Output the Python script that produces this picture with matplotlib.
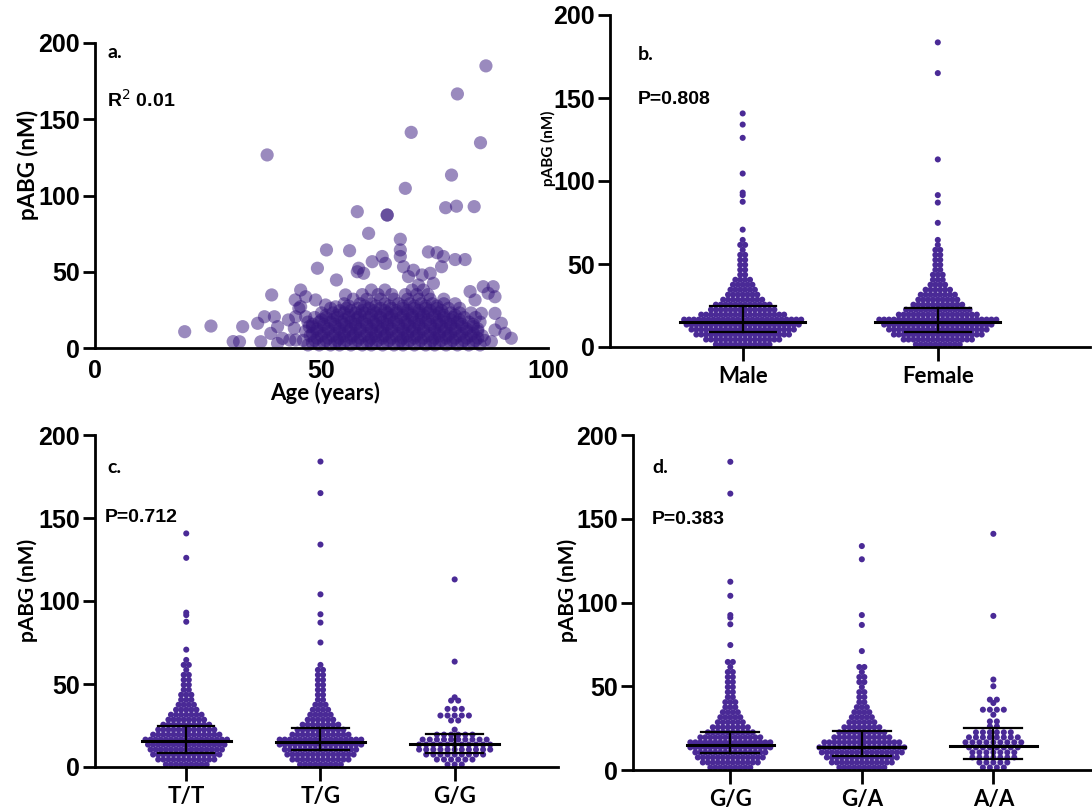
import numpy as np
import matplotlib
matplotlib.use("Agg")
import matplotlib.pyplot as plt

# ---- panel a: age vs pABG (outer points)
age_out = [19.8, 25.6, 39, 51.1, 56.2, 49.1, 53.3, 55.3, 57.9, 57.9, 45.4, 46.5, 48.7, 50.9,
           32.6, 31.9, 35.9, 37.4, 39.6, 36.6, 38.8, 40.3, 41.4, 44, 44.3, 44.3, 46.5, 45.4,
           47.3, 53.1, 78.7, 68.5, 77.4, 79.8, 83.7, 64.5, 64.5, 60.4, 67.4, 73.6, 75.5, 67.4,
           67.4, 76.9, 76.5, 79.5, 81.7, 63.4, 61.2, 64.1, 58.2, 59.3, 68.1, 70.3, 72.2, 74,
           74.7, 71.4, 69.2, 85.7, 87.9, 82.8, 86.8, 88.3, 83.9, 85.3, 88.3, 89.7, 91.9, 90.5,
           88.3, 87.5, 38, 86.3, 80, 69.8, 85.1, 30.5, 40.3, 43, 42.7, 45, 44.2]
pabg_out = [10.7, 14.4, 34.8, 64.3, 63.8, 52.3, 44.6, 34.8, 89.4, 50, 38, 33.6, 31.5, 28.2,
            14, 4.1, 16.2, 20.5, 20.5, 4.1, 9.6, 14, 6.3, 12.9, 20.5, 5.2, 20.5, 27.1,
            14, 27, 113.4, 104.7, 92, 93, 92.7, 87.2, 87.2, 75.2, 71.3, 63, 62.5, 64.3,
            60, 60, 53.3, 58, 58, 60, 56.6, 55.5, 52.3, 49, 53.3, 51, 47.9, 49,
            42.4, 41.3, 46.8, 40.2, 40.2, 37, 35.9, 33.6, 31.5, 22.7, 22.7, 16.2, 6.4, 9.6,
            11.8, 4.2, 126.6, 185, 166.6, 141.4, 134.6, 4.2, 3, 5.2, 18.4, 26, 31.5]

# ---- panel a: dense core, ages for each pABG level
core_levels = [2, 3.5, 5, 6.5, 8, 9.5, 11, 12.5, 14, 15.5, 17, 18.5, 20, 21.5, 23, 24.5,
               26, 27.5, 29, 32, 35, 38]
core_ages = [
    [47, 49.5, 52, 54, 56.5, 59, 61, 63.5, 66, 68, 70.5, 73, 75, 77.5, 80, 82.5, 85],
    [48, 50.5, 53, 55, 57.5, 60, 62, 64.5, 67, 69, 71.5, 74, 76, 78.5, 81, 83.5],
    [46, 48.5, 51, 53.5, 55.5, 58, 60.5, 62.5, 65, 67.5, 69.5, 72, 74.5, 76.5, 79, 81.5, 84, 86],
    [49, 51.5, 54, 56.5, 58.5, 61, 63.5, 65.5, 68, 70.5, 72.5, 75, 77.5, 79.5, 82, 84.5],
    [47.5, 50, 52.5, 55, 57, 59.5, 62, 64, 66.5, 69, 71, 73.5, 76, 78, 80.5, 83, 85.5],
    [48, 50.5, 53, 55, 57.5, 60, 62, 64.5, 67, 69, 71.5, 74, 76, 78.5, 81, 83.5],
    [46.5, 49, 51.5, 54, 56, 58.5, 61, 63, 65.5, 68, 70, 72.5, 75, 77, 79.5, 82, 84.5],
    [49, 51.5, 54, 56.5, 58.5, 61, 63.5, 65.5, 68, 70.5, 72.5, 75, 77.5, 79.5, 82, 84.5],
    [48, 50.5, 53, 55.5, 57.5, 60, 62.5, 64.5, 67, 69.5, 71.5, 74, 76.5, 78.5, 81, 83.5],
    [48, 50.5, 53, 55, 57.5, 60, 62, 64.5, 67, 69, 71.5, 74, 76, 78.5, 81, 83.5],
    [47, 49.5, 52, 54.5, 56.5, 59, 61.5, 63.5, 66, 68.5, 70.5, 73, 75.5, 77.5, 80, 82.5, 85],
    [50, 52.5, 55, 57.5, 59.5, 62, 64.5, 66.5, 69, 71.5, 73.5, 76, 78.5, 80.5],
    [48.5, 51, 53.5, 56, 58, 60.5, 63, 65, 67.5, 70, 72, 74.5, 77, 79, 81.5, 84],
    [51, 53.5, 56, 58.5, 61, 63, 65.5, 68, 70, 72.5, 75, 77, 79.5],
    [50, 52.5, 55, 57.5, 59.5, 62, 64.5, 66.5, 69, 71.5, 73.5, 76, 78.5, 80.5, 83],
    [54, 56.5, 59, 61.5, 64, 66.5, 69, 71.5, 74, 76.5],
    [52, 55.5, 58, 60.5, 63, 65.5, 68, 70.5, 73, 75.5, 78, 80.5],
    [56, 59.5, 62, 65, 68, 70.5, 73, 75.5],
    [55, 58.5, 61, 64, 67, 69.5, 72, 74.5, 77, 79.5],
    [57, 60, 63, 66, 69, 71.5, 74, 77],
    [59, 62.5, 65.5, 68.5, 71, 73.5],
    [61, 64, 70, 72.5],
]

# ---- dot plots: counts per 3 nM row (0-3, 3-6, ...) plus single high values
row_mid = [1.5, 4.5, 7.5, 10.5, 13.5, 16.5, 19.5, 22.5, 25.5, 28.5, 31.5, 34.5,
           37.5, 40.5, 43.5, 46.5, 49.5, 52.5, 55.5, 58.5, 61.5, 64.5]

sex_labels = ["Male", "Female"]
male_counts = [12, 16, 20, 22, 24, 25, 18, 14, 12, 9, 7, 6, 5, 4, 2, 2, 2, 2, 2, 1, 2, 1]
male_high = [70.7, 87.5, 91.5, 93, 104.5, 126, 134, 140.7]
female_counts = [10, 15, 19, 21, 23, 25, 17, 14, 11, 9, 8, 6, 4, 3, 3, 2, 2, 2, 2, 2, 1, 1]
female_high = [74.8, 87, 91.5, 113, 165, 183.5]
sex_median = [15, 15]
sex_q1 = [9, 9]
sex_q3 = [24.7, 23.5]

c_labels = ["T/T", "T/G", "G/G"]
tt_counts = [9, 12, 14, 15, 16, 17, 14, 12, 10, 8, 7, 5, 4, 3, 3, 2, 2, 2, 2, 1, 2, 1]
tt_high = [70.7, 87.5, 91.5, 93, 126, 140.7]
tg_counts = [9, 12, 14, 15, 17, 17, 12, 10, 8, 6, 5, 4, 3, 2, 2, 2, 2, 2, 2, 2, 1, 0]
tg_high = [75, 87, 92, 104, 134, 165, 184]
ggc_counts = [3, 6, 9, 11, 11, 10, 6, 1]
ggc_high = [28, 28, 31, 31, 31, 31, 31, 35, 35, 35, 40, 40, 42, 63.5, 113]
c_median = [15.7, 15, 14]
c_q1 = [8.4, 10, 8.4]
c_q3 = [24.7, 23.5, 20]

d_labels = ["G/G", "G/A", "A/A"]
ggd_counts = [9, 12, 14, 15, 17, 17, 13, 10, 8, 6, 5, 4, 3, 3, 2, 2, 2, 2, 2, 2, 1, 2]
ggd_high = [74.6, 87, 91, 92.5, 104, 112.4, 165, 184]
ga_counts = [10, 13, 15, 17, 18, 16, 12, 10, 8, 6, 5, 4, 3, 2, 2, 2, 1, 2, 2, 1, 2, 0]
ga_high = [71, 86.6, 92.5, 125.8, 133.7]
aa_counts = [4, 5, 7, 7, 8, 9, 8, 6]
aa_high = [26, 26, 29, 29, 33, 36, 36, 36, 36, 40, 42, 42, 50, 54, 92, 141]
d_median = [15, 14, 14.3]
d_q1 = [10, 8.4, 6.6]
d_q3 = [22.7, 23.3, 25]

W, H = 1092, 811
fig = plt.figure(figsize=(W / 100, H / 100), dpi=100)

NUM_FONT = "Liberation Sans"
TXT_FONT = "Lato"
DOT = "#4a2a96"
SCAT = "#36167e"


def px_axes(x0, x1, ytop, ybot):
    return fig.add_axes([x0 / W, 1 - ybot / H, (x1 - x0) / W, (ybot - ytop) / H])


def fig_text(x, y, s, **kw):
    fig.text(x / W, 1 - y / H, s, **kw)


def style(ax):
    for side in ["top", "right"]:
        ax.spines[side].set_visible(False)
    for side in ["left", "bottom"]:
        ax.spines[side].set_linewidth(2.0)
    ax.set_ylim(0, 200)
    ax.set_yticks([0, 50, 100, 150, 200])
    ax.tick_params(axis="y", length=9, width=2.0, pad=2, labelsize=18)
    for lab in ax.get_yticklabels():
        lab.set_fontfamily(NUM_FONT)
        lab.set_fontweight("bold")


def dot_column(ax, x, counts, high, dx):
    vals = list(np.repeat(row_mid[:len(counts)], counts)) + list(high)
    vals = np.array(vals)
    xs, ys = [], []
    for v in np.unique(vals):
        n = np.sum(vals == v)
        offs = (np.arange(n) - (n - 1) / 2) * dx
        xs += list(x + offs)
        ys += [v] * n
    ax.scatter(xs, ys, s=19, color=DOT, edgecolors="none", clip_on=False, zorder=2)


def summary(ax, med, q1, q3, half_med, half_cap):
    for i in range(len(med)):
        ax.plot([i - half_med, i + half_med], [med[i], med[i]], color="black", lw=2.2, zorder=3)
        ax.plot([i - half_cap, i + half_cap], [q1[i], q1[i]], color="black", lw=1.6, zorder=3)
        ax.plot([i - half_cap, i + half_cap], [q3[i], q3[i]], color="black", lw=1.6, zorder=3)
        ax.plot([i, i], [q1[i], q3[i]], color="black", lw=1.6, zorder=3)


def cat_axis(ax, labels, lo, hi):
    ax.set_xlim(lo, hi)
    ax.set_xticks(range(len(labels)))
    ax.set_xticklabels(labels, fontfamily=TXT_FONT, fontweight="bold", fontsize=16)
    ax.tick_params(axis="x", length=10, width=2.0, pad=4)


# ---- a
ax_a = px_axes(95, 548, 43, 348)
style(ax_a)
ax_a.scatter(age_out, pabg_out, s=90, color=SCAT, alpha=0.5, edgecolors="none", clip_on=False)
core_x = [a for row in core_ages for a in row]
core_y = [v for v, row in zip(core_levels, core_ages) for _ in row]
ax_a.scatter(core_x, core_y, s=90, color=SCAT, alpha=0.5, edgecolors="none", clip_on=False)
ax_a.set_xlim(0, 100)
ax_a.set_xticks([0, 50, 100])
ax_a.tick_params(axis="x", length=0, pad=8, labelsize=18)
for lab in ax_a.get_xticklabels():
    lab.set_fontfamily(NUM_FONT)
    lab.set_fontweight("bold")
fig_text(325, 393, "Age (years)", ha="center", va="center", fontsize=16,
         fontfamily=TXT_FONT, fontweight="bold")
fig_text(28, 165, "pABG (nM)", ha="center", va="center", rotation=90, fontsize=16,
         fontfamily=TXT_FONT, fontweight="bold")
fig_text(107, 52, "a.", ha="left", va="center", fontsize=14, fontfamily=TXT_FONT, fontweight="bold")
fig_text(107, 100, "R$^{2}$ 0.01", ha="left", va="center", fontsize=14,
         fontfamily=NUM_FONT, fontweight="bold")

# ---- b
ax_b = px_axes(610, 1090, 15, 347)
style(ax_b)
dot_column(ax_b, 0, male_counts, male_high, 0.025)
dot_column(ax_b, 1, female_counts, female_high, 0.025)
summary(ax_b, sex_median, sex_q1, sex_q3, 0.32, 0.17)
cat_axis(ax_b, sex_labels, -0.68, 1.78)
fig_text(548, 148, "pABG (nM)", ha="center", va="center", rotation=90, fontsize=11,
         fontfamily=TXT_FONT, fontweight="bold")
fig_text(638, 55, "b.", ha="left", va="center", fontsize=14, fontfamily=TXT_FONT, fontweight="bold")
fig_text(638, 100, "P=0.808", ha="left", va="center", fontsize=14,
         fontfamily=NUM_FONT, fontweight="bold")

# ---- c
ax_c = px_axes(95, 558, 435, 767)
style(ax_c)
dot_column(ax_c, 0, tt_counts, tt_high, 0.038)
dot_column(ax_c, 1, tg_counts, tg_high, 0.038)
dot_column(ax_c, 2, ggc_counts, ggc_high, 0.053)
summary(ax_c, c_median, c_q1, c_q3, 0.33, 0.21)
cat_axis(ax_c, c_labels, -0.68, 2.77)
fig_text(28, 590, "pABG (nM)", ha="center", va="center", rotation=90, fontsize=15,
         fontfamily=TXT_FONT, fontweight="bold")
fig_text(107, 468, "c.", ha="left", va="center", fontsize=14, fontfamily=TXT_FONT, fontweight="bold")
fig_text(105, 518, "P=0.712", ha="left", va="center", fontsize=14,
         fontfamily=NUM_FONT, fontweight="bold")

# ---- d
ax_d = px_axes(633, 1092, 435, 770)
style(ax_d)
dot_column(ax_d, 0, ggd_counts, ggd_high, 0.038)
dot_column(ax_d, 1, ga_counts, ga_high, 0.038)
dot_column(ax_d, 2, aa_counts, aa_high, 0.053)
summary(ax_d, d_median, d_q1, d_q3, 0.33, 0.22)
cat_axis(ax_d, d_labels, -0.74, 2.75)
fig_text(568, 590, "pABG (nM)", ha="center", va="center", rotation=90, fontsize=15,
         fontfamily=TXT_FONT, fontweight="bold")
fig_text(652, 468, "d.", ha="left", va="center", fontsize=14, fontfamily=TXT_FONT, fontweight="bold")
fig_text(652, 520, "P=0.383", ha="left", va="center", fontsize=14,
         fontfamily=NUM_FONT, fontweight="bold")

fig.savefig("out.png", dpi=100)
